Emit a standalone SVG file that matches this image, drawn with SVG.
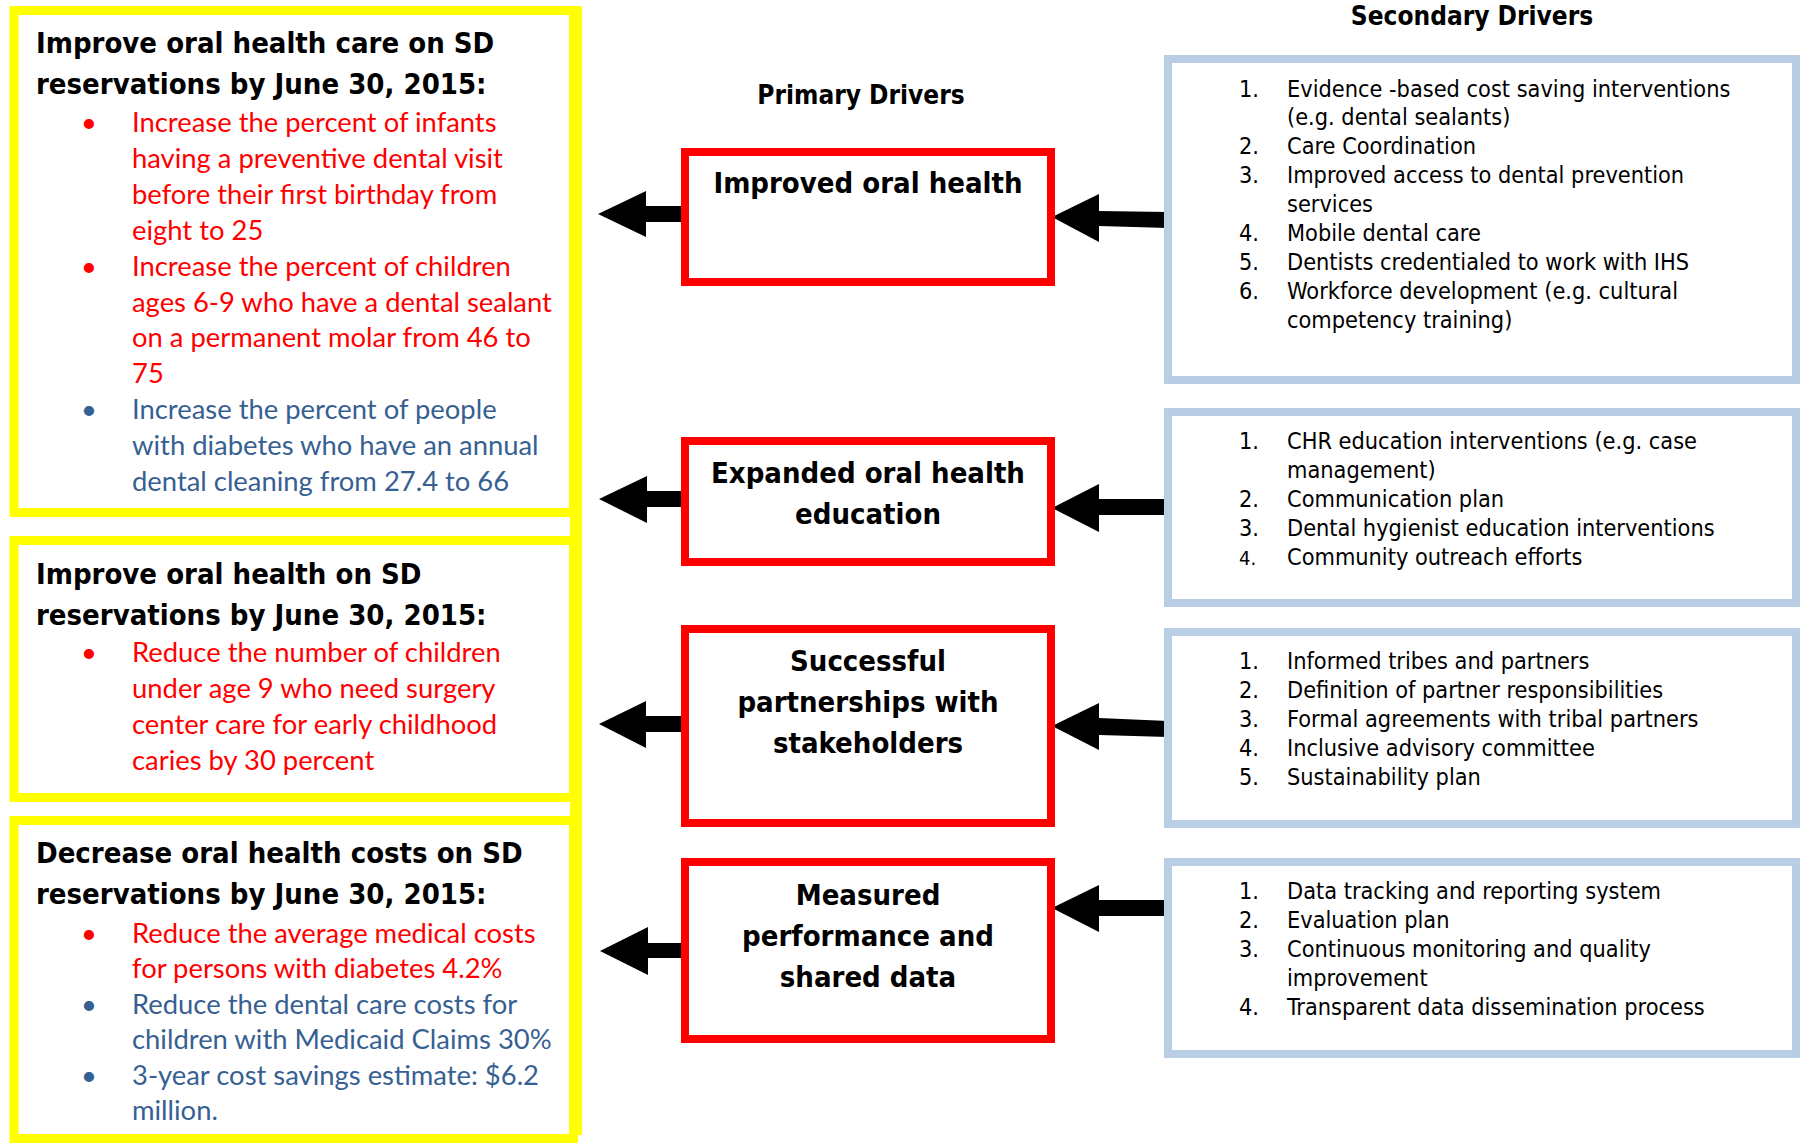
<svg xmlns="http://www.w3.org/2000/svg" width="1800" height="1143" viewBox="0 0 1800 1143">
<style>
.ybox{fill:#fff;stroke:#FFFF00;stroke-width:9}
.rbox{fill:#fff;stroke:#FF0000;stroke-width:8}
.bbox{fill:#fff;stroke:#B9CDE5;stroke-width:8}
.hd{font-family:"DejaVu Sans Condensed","DejaVu Sans",sans-serif;font-stretch:condensed;font-weight:bold;font-size:29px;fill:#000}
.ttl{font-family:"DejaVu Sans Condensed","DejaVu Sans",sans-serif;font-stretch:condensed;font-weight:bold;font-size:26px;fill:#000;text-anchor:middle}
.rl{font-family:"DejaVu Sans Condensed","DejaVu Sans",sans-serif;font-stretch:condensed;font-weight:bold;font-size:29px;fill:#000;text-anchor:middle}
.cal{font-family:Lato,"Open Sans",sans-serif;font-size:27.4px}
.red{fill:#FF0000}
.blu{fill:#376092}
.bul{text-anchor:middle}
.sec{font-family:"DejaVu Sans Condensed","DejaVu Sans",sans-serif;font-stretch:condensed;font-size:23.3px;fill:#000}
.arr{fill:#000}
</style>

<g id="connectors">
  <polygon class="arr" points="598,214 646,191 646,206 682,206 682,222 646,222 646,237"/>
  <polygon class="arr" points="599,499 647,476 647,491 684,491 684,507 647,507 647,523"/>
  <polygon class="arr" points="599,724 646,701 646,716 683,716 683,732 646,732 646,748"/>
  <polygon class="arr" points="600,951 648,927 648,943 684,943 684,958 648,958 648,975"/>
  <polygon class="arr" points="1052,217 1099,194 1099,211 1168,212 1168,228 1099,226 1099,242"/>
  <polygon class="arr" points="1052,508 1099,484 1099,499 1168,499 1168,515 1099,515 1099,532"/>
  <polygon class="arr" points="1052,726 1099,703 1099,718 1168,721 1168,737 1099,735 1099,750"/>
  <polygon class="arr" points="1052,908 1099,885 1099,900 1168,900 1168,916 1099,916 1099,932"/>
</g>

<g id="outcome-1">
  <rect class="ybox" x="14" y="10.5" width="559.5" height="502"/>
  <text class="hd" x="36" y="53">Improve oral health care on SD</text>
  <text class="hd" x="36" y="94">reservations by June 30, 2015:</text>
  <g class="cal red">
    <text class="bul" x="89" y="132">•</text>
    <text x="132" y="132">Increase the percent of infants</text>
    <text x="132" y="168">having a preventive dental visit</text>
    <text x="132" y="204">before their first birthday from</text>
    <text x="132" y="240">eight to 25</text>
    <text class="bul" x="89" y="276">•</text>
    <text x="132" y="276">Increase the percent of children</text>
    <text x="132" y="312">ages 6-9 who have a dental sealant</text>
    <text x="132" y="347">on a permanent molar from 46 to</text>
    <text x="132" y="383">75</text>
  </g>
  <g class="cal blu">
    <text class="bul" x="89" y="419">•</text>
    <text x="132" y="419">Increase the percent of people</text>
    <text x="132" y="455">with diabetes who have an annual</text>
    <text x="132" y="491">dental cleaning from 27.4 to 66</text>
  </g>
</g>

<g id="outcome-2">
  <rect class="ybox" x="14" y="540.5" width="559.5" height="257"/>
  <text class="hd" x="36" y="584">Improve oral health on SD</text>
  <text class="hd" x="36" y="625">reservations by June 30, 2015:</text>
  <g class="cal red">
    <text class="bul" x="89" y="662">•</text>
    <text x="132" y="662">Reduce the number of children</text>
    <text x="132" y="698">under age 9 who need surgery</text>
    <text x="132" y="734">center care for early childhood</text>
    <text x="132" y="770">caries by 30 percent</text>
  </g>
</g>

<g id="outcome-3">
  <rect class="ybox" x="14" y="820.5" width="559.5" height="318"/>
  <text class="hd" x="36" y="863">Decrease oral health costs on SD</text>
  <text class="hd" x="36" y="904">reservations by June 30, 2015:</text>
  <g class="cal red">
    <text class="bul" x="89" y="943">•</text>
    <text x="132" y="943">Reduce the average medical costs</text>
    <text x="132" y="978">for persons with diabetes 4.2%</text>
  </g>
  <g class="cal blu">
    <text class="bul" x="89" y="1014">•</text>
    <text x="132" y="1014">Reduce the dental care costs for</text>
    <text x="132" y="1049">children with Medicaid Claims 30%</text>
    <text class="bul" x="89" y="1085">•</text>
    <text x="132" y="1085">3-year cost savings estimate: $6.2</text>
    <text x="132" y="1120">million.</text>
  </g>
</g>

<rect id="outcome-bar" x="570" y="6" width="12" height="1129" fill="#FFFF00"/>

<g id="titles">
  <text class="ttl" x="861" y="104">Primary Drivers</text>
  <text class="ttl" x="1472" y="25">Secondary Drivers</text>
</g>

<g id="primary-1">
  <rect class="rbox" x="685" y="152" width="366" height="130"/>
  <text class="rl" x="868" y="193">Improved oral health</text>
</g>
<g id="primary-2">
  <rect class="rbox" x="685" y="441" width="366" height="121"/>
  <text class="rl" x="868" y="483">Expanded oral health</text>
  <text class="rl" x="868" y="524">education</text>
</g>
<g id="primary-3">
  <rect class="rbox" x="685" y="629" width="366" height="194"/>
  <text class="rl" x="868" y="671">Successful</text>
  <text class="rl" x="868" y="712">partnerships with</text>
  <text class="rl" x="868" y="753">stakeholders</text>
</g>
<g id="primary-4">
  <rect class="rbox" x="685" y="862" width="366" height="177"/>
  <text class="rl" x="868" y="905">Measured</text>
  <text class="rl" x="868" y="946">performance and</text>
  <text class="rl" x="868" y="987">shared data</text>
</g>

<g id="secondary-1">
  <rect class="bbox" x="1168" y="59" width="628" height="321"/>
  <g class="sec">
    <text x="1239" y="97">1.</text><text x="1287" y="97">Evidence -based cost saving interventions</text>
    <text x="1287" y="125">(e.g. dental sealants)</text>
    <text x="1239" y="154">2.</text><text x="1287" y="154">Care Coordination</text>
    <text x="1239" y="183">3.</text><text x="1287" y="183">Improved access to dental prevention</text>
    <text x="1287" y="212">services</text>
    <text x="1239" y="241">4.</text><text x="1287" y="241">Mobile dental care</text>
    <text x="1239" y="270">5.</text><text x="1287" y="270">Dentists credentialed to work with IHS</text>
    <text x="1239" y="299">6.</text><text x="1287" y="299">Workforce development (e.g. cultural</text>
    <text x="1287" y="328">competency training)</text>
  </g>
</g>
<g id="secondary-2">
  <rect class="bbox" x="1168" y="412" width="628" height="191"/>
  <g class="sec">
    <text x="1239" y="449">1.</text><text x="1287" y="449">CHR education interventions (e.g. case</text>
    <text x="1287" y="478">management)</text>
    <text x="1239" y="507">2.</text><text x="1287" y="507">Communication plan</text>
    <text x="1239" y="536">3.</text><text x="1287" y="536">Dental hygienist education interventions</text>
    <text x="1239" y="565" font-size="20">4.</text><text x="1287" y="565">Community outreach efforts</text>
  </g>
</g>
<g id="secondary-3">
  <rect class="bbox" x="1168" y="632" width="628" height="192"/>
  <g class="sec">
    <text x="1239" y="669">1.</text><text x="1287" y="669">Informed tribes and partners</text>
    <text x="1239" y="698">2.</text><text x="1287" y="698">Definition of partner responsibilities</text>
    <text x="1239" y="727">3.</text><text x="1287" y="727">Formal agreements with tribal partners</text>
    <text x="1239" y="756">4.</text><text x="1287" y="756">Inclusive advisory committee</text>
    <text x="1239" y="785">5.</text><text x="1287" y="785">Sustainability plan</text>
  </g>
</g>
<g id="secondary-4">
  <rect class="bbox" x="1168" y="862" width="628" height="192"/>
  <g class="sec">
    <text x="1239" y="899">1.</text><text x="1287" y="899">Data tracking and reporting system</text>
    <text x="1239" y="928">2.</text><text x="1287" y="928">Evaluation plan</text>
    <text x="1239" y="957">3.</text><text x="1287" y="957">Continuous monitoring and quality</text>
    <text x="1287" y="986">improvement</text>
    <text x="1239" y="1015">4.</text><text x="1287" y="1015">Transparent data dissemination process</text>
  </g>
</g>
</svg>
